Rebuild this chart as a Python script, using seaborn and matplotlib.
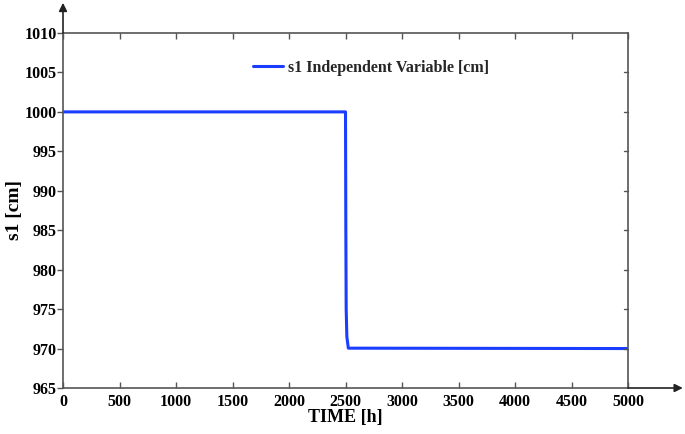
import matplotlib
matplotlib.use("Agg")
import matplotlib.pyplot as plt
import seaborn as sns
import pandas as pd

# Data
time_h = [0, 2500, 2501, 2503, 2506, 2512, 2525, 5000]
s1_cm = [1000, 1000, 995, 985, 975, 971.5, 970.05, 970]
x_ticks = [0, 500, 1000, 1500, 2000, 2500, 3000, 3500, 4000, 4500, 5000]
y_ticks = [965, 970, 975, 980, 985, 990, 995, 1000, 1005, 1010]
legend_label = "s1 Independent Variable [cm]"
x_label = "TIME [h]"
y_label = "s1 [cm]"

sns.set_theme(style="white")
plt.rcParams['font.family'] = ['Liberation Serif', 'DejaVu Serif']
plt.rcParams['font.weight'] = 'bold'

df = pd.DataFrame({"t": time_h, "s1": s1_cm})

fig = plt.figure(figsize=(6.85, 4.34), dpi=100)
ax = fig.add_axes([63/685, 46/434, 565/685, 355/434])

sns.lineplot(data=df, x="t", y="s1", ax=ax, color="#1a3dff", linewidth=2.2,
             label=legend_label, sort=False)

ax.set_xlim(0, 5000)
ax.set_ylim(965, 1010)
ax.set_xticks(x_ticks)
ax.set_yticks(y_ticks)
ax.set_xticklabels([str(v) for v in x_ticks], fontsize=11.5, fontweight='bold')
ax.set_yticklabels([str(v) for v in y_ticks], fontsize=11.5, fontweight='bold')

spine_col = "#555555"
for sp in ax.spines.values():
    sp.set_color(spine_col)
    sp.set_linewidth(1.2)
    sp.set_visible(True)

ax.tick_params(axis='x', which='both', direction='in', length=4, width=1,
               color=spine_col, top=True, bottom=True, pad=4, labelcolor='black')
ax.tick_params(axis='y', which='both', direction='out', length=4, width=1,
               color=spine_col, left=True, right=False, pad=0.5, labelcolor='black')
# right side inward ticks
for y in y_ticks[1:-1]:
    ax.plot([1.0 - 4/565, 1.0], [y, y], transform=ax.get_yaxis_transform(),
            color=spine_col, lw=1, clip_on=False)

ax.set_xlabel(x_label, fontsize=13, fontweight='bold', color='black')
ax.set_ylabel(y_label, fontsize=14, fontweight='bold', color='black')
ax.xaxis.set_label_coords(0.5, -0.059)
ax.yaxis.set_label_coords(-0.071, 0.5)

# axis arrows
ax.annotate("", xy=(0, 1.085), xytext=(0, 1.0), xycoords='axes fraction',
            arrowprops=dict(arrowstyle="-|>", color="#222222", lw=1.2,
                            mutation_scale=12, shrinkA=0, shrinkB=0),
            annotation_clip=False)
ax.annotate("", xy=(1.097, 0), xytext=(1.0, 0), xycoords='axes fraction',
            arrowprops=dict(arrowstyle="-|>", color="#222222", lw=1.2,
                            mutation_scale=12, shrinkA=0, shrinkB=0),
            annotation_clip=False)

leg = ax.legend(loc='upper left', bbox_to_anchor=(0.31, 0.965), frameon=False,
                prop={'family': 'Liberation Serif', 'weight': 'bold', 'size': 11.5},
                handlelength=1.9, handletextpad=0.35)

fig.savefig("out.png", dpi=100)
